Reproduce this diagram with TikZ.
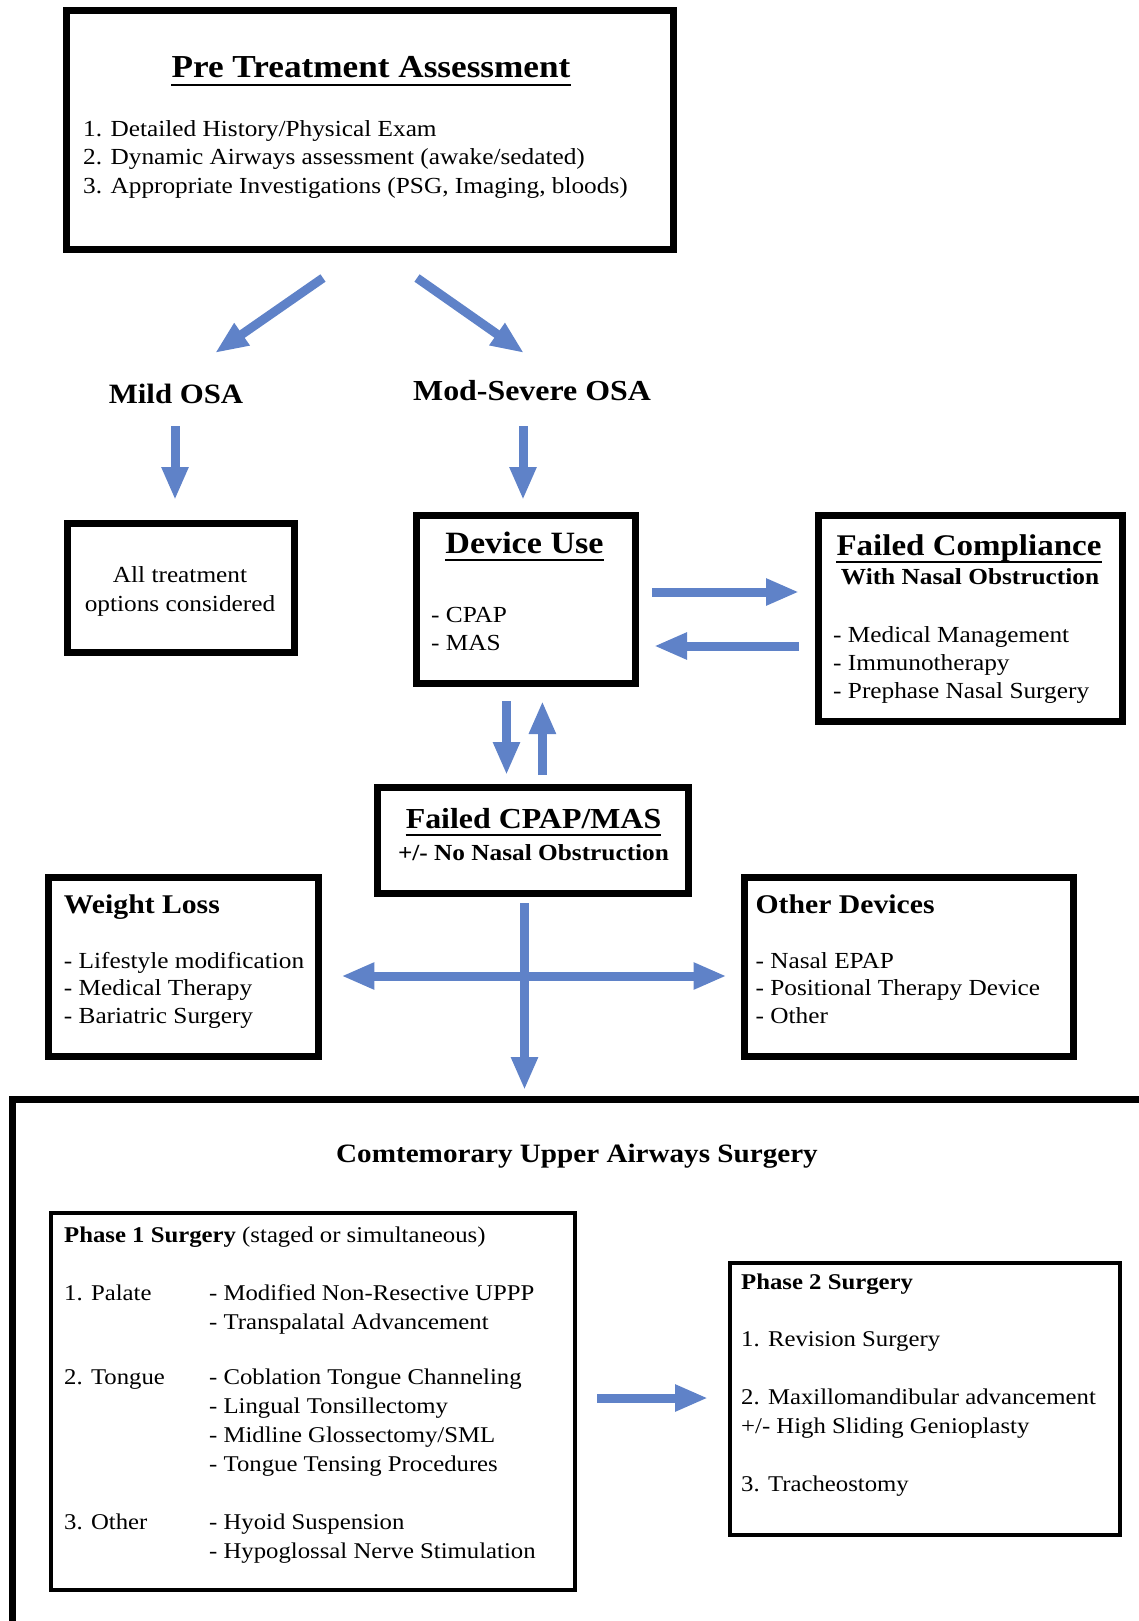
\documentclass[tikz,border=0pt]{standalone}
\usepackage{fontspec}
\setmainfont{Liberation Serif}[FakeStretch=1.1]
\usetikzlibrary{arrows.meta}
\definecolor{arrowblue}{RGB}{95,130,200}
\begin{document}
\begin{tikzpicture}[x=1pt,y=-1pt,
  box/.style={draw=black, line width=7pt, inner sep=0pt},
  thinbox/.style={draw=black, line width=4pt, inner sep=0pt},
  txt/.style={inner sep=0pt, anchor=base west, font=\fontsize{23}{29}\selectfont},
  ptxt/.style={inner sep=0pt, anchor=base west, font=\fontsize{22.5}{29}\selectfont},
  ctxt/.style={inner sep=0pt, anchor=base, font=\fontsize{23}{29}\selectfont},
  title/.style={inner sep=0pt, anchor=base, font=\bfseries\fontsize{#1}{#1}\selectfont},
  flow/.style={draw=arrowblue, line width=9pt, -{Triangle[length=33pt,width=25pt]}},
  flowboth/.style={draw=arrowblue, line width=9pt, {Triangle[length=33pt,width=25pt]}-{Triangle[length=33pt,width=25pt]}},
  uline/.style={line width=2.2pt}]
\useasboundingbox (0,0) rectangle (1139,1621);

% ---------- Pre treatment ----------
\node[box, minimum width=607pt, minimum height=239pt] (pre) at (370,130) {};
\node[title=32] (pretitle) at (371,78) {Pre Treatment Assessment};
\draw[uline] ([yshift=-7pt]pretitle.base west) -- ([yshift=-7pt]pretitle.base east);
\node[txt] (pre1) at (83,137) {1. Detailed History/Physical Exam};
\node[txt] (pre2) at (83,165) {2. Dynamic Airways assessment (awake/sedated)};
\node[txt] (pre3) at (83,194) {3. Appropriate Investigations (PSG, Imaging, bloods)};

% ---------- OSA ----------
\node[title=28] (mild) at (176,403) {Mild OSA};
\node[title=29] (mod) at (532,400) {Mod-Severe OSA};

\coordinate (a1s) at (323,278); \coordinate (a1e) at (215,353);
\coordinate (a2s) at (417,278); \coordinate (a2e) at (524,353);
\draw[flow] (a1s) -- (a1e);
\draw[flow] (a2s) -- (a2e);

\coordinate (m1s) at (175,426); \coordinate (m1e) at (175,500);
\coordinate (m2s) at (523,426); \coordinate (m2e) at (523,500);
\draw[flow] (m1s) -- (m1e);
\draw[flow] (m2s) -- (m2e);

% ---------- All treatment ----------
\node[box, minimum width=227pt, minimum height=129pt] (all) at (180.5,588) {};
\node[ctxt] (all1) at (180,582) {All treatment};
\node[ctxt] (all2) at (180,611) {options considered};

% ---------- Device use ----------
\node[box, minimum width=219pt, minimum height=168pt] (dev) at (526,599.5) {};
\node[title=31] (devtitle) at (524.5,553) {Device Use};
\draw[uline] ([yshift=-7pt]devtitle.base west) -- ([yshift=-7pt]devtitle.base east);
\node[txt] (dev1) at (431,622) {- CPAP};
\node[txt] (dev2) at (431,650) {- MAS};

% ---------- Failed compliance ----------
\node[box, minimum width=303.5pt, minimum height=206pt] (fc) at (970.3,618.5) {};
\node[title=30] (fctitle) at (969,555) {Failed Compliance};
\draw[uline] ([yshift=-7pt]fctitle.base west) -- ([yshift=-7pt]fctitle.base east);
\node[title=23] (fcsub) at (970,584) {With Nasal Obstruction};
\node[txt] (fc1) at (833,642) {- Medical Management};
\node[txt] (fc2) at (833,670) {- Immunotherapy};
\node[txt] (fc3) at (833,698) {- Prephase Nasal Surgery};

\coordinate (r1s) at (652,592); \coordinate (r1e) at (799,592);
\coordinate (l1s) at (799,646); \coordinate (l1e) at (654,646);
\draw[flow] (r1s) -- (r1e);
\draw[flow] (l1s) -- (l1e);

\coordinate (d1s) at (506.5,701); \coordinate (d1e) at (506.5,775);
\coordinate (u1s) at (542.4,775); \coordinate (u1e) at (542.4,701);
\draw[flow] (d1s) -- (d1e);
\draw[flow] (u1s) -- (u1e);

% ---------- Failed CPAP ----------
\node[box, minimum width=310.5pt, minimum height=106pt] (fcp) at (533,840.5) {};
\node[title=29] (fcptitle) at (533.5,828) {Failed CPAP/MAS};
\draw[uline] ([yshift=-7pt]fcptitle.base west) -- ([yshift=-7pt]fcptitle.base east);
\node[title=23] (fcpsub) at (533.5,860) {+/- No Nasal Obstruction};

% ---------- Weight loss ----------
\node[box, minimum width=270pt, minimum height=179pt] (wl) at (183,967) {};
\node[title=27, anchor=base west] (wltitle) at (63.7,913) {Weight Loss};
\node[txt] (wl1) at (63.7,968) {- Lifestyle modification};
\node[txt] (wl2) at (63.7,995) {- Medical Therapy};
\node[txt] (wl3) at (63.7,1023) {- Bariatric Surgery};

% ---------- Other devices ----------
\node[box, minimum width=328.4pt, minimum height=179pt] (od) at (909,967) {};
\node[title=27, anchor=base west] (odtitle) at (755.4,913) {Other Devices};
\node[txt] (od1) at (755.4,968) {- Nasal EPAP};
\node[txt] (od2) at (755.4,995) {- Positional Therapy Device};
\node[txt] (od3) at (755.4,1023) {- Other};

\coordinate (vs) at (524.5,903); \coordinate (ve) at (524.5,1090);
\coordinate (hs) at (341.4,976); \coordinate (he) at (726.5,976);
\draw[flow] (vs) -- (ve);
\draw[flowboth] (hs) -- (he);

% ---------- Surgery ----------
\begin{scope}
\clip (0,0) rectangle (1139,1621);
\node[box, minimum width=1180pt, minimum height=560pt] (surg) at (602,1379) {};
\end{scope}
\node[title=26.5] (surgtitle) at (577,1162) {Comtemorary Upper Airways Surgery};

\node[thinbox, minimum width=524pt, minimum height=377pt] (ph1) at (313,1401.5) {};
\node[ptxt] (ph1title) at (64,1242) {\textbf{Phase 1 Surgery} (staged or simultaneous)};
\node[ptxt] (pal) at (64,1300) {1. Palate};
\node[ptxt] (pal1) at (209,1300) {- Modified Non-Resective UPPP};
\node[ptxt] (pal2) at (209,1329) {- Transpalatal Advancement};
\node[ptxt] (ton) at (64,1384) {2. Tongue};
\node[ptxt] (ton1) at (209,1384) {- Coblation Tongue Channeling};
\node[ptxt] (ton2) at (209,1413) {- Lingual Tonsillectomy};
\node[ptxt] (ton3) at (209,1442) {- Midline Glossectomy/SML};
\node[ptxt] (ton4) at (209,1471) {- Tongue Tensing Procedures};
\node[ptxt] (oth) at (64,1529) {3. Other};
\node[ptxt] (oth1) at (209,1529) {- Hyoid Suspension};
\node[ptxt] (oth2) at (209,1558) {- Hypoglossal Nerve Stimulation};

\node[thinbox, minimum width=390pt, minimum height=272pt] (ph2) at (925,1399) {};
\node[ptxt] (ph2title) at (741,1289) {\textbf{Phase 2 Surgery}};
\node[ptxt] (ph2a) at (741,1346) {1. Revision Surgery};
\node[ptxt] (ph2b) at (741,1404) {2. Maxillomandibular advancement};
\node[ptxt] (ph2c) at (741,1433) {+/- High Sliding Genioplasty};
\node[ptxt] (ph2d) at (741,1491) {3. Tracheostomy};

\coordinate (ps) at (597,1398); \coordinate (pe) at (708,1398);
\draw[flow] (ps) -- (pe);
\end{tikzpicture}
\end{document}
